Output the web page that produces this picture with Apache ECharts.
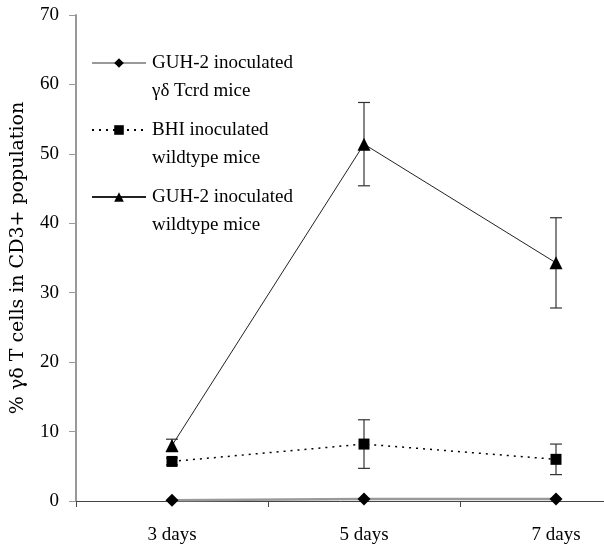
<!DOCTYPE html>
<html>
<head>
<meta charset="utf-8">
<script src="https://cdn.jsdelivr.net/npm/echarts@6/dist/echarts.min.js"></script>
<style>html,body{margin:0;padding:0;background:#fff;}#c{width:604px;height:544px;}</style>
</head>
<body>
<div id="c"></div>
<script>
var categories = ['3 days', '5 days', '7 days'];
var yTicks = [0, 10, 20, 30, 40, 50, 60, 70];
var seriesNames = ['GUH-2 inoculated\nγδ Tcrd mice', 'BHI inoculated\nwildtype mice', 'GUH-2 inoculated\nwildtype mice'];
var tcrdMean = [0.1, 0.3, 0.3];
var bhiMean = [5.7, 8.2, 6.0];
var bhiErr = [0.5, 3.5, 2.2];
var guhWtMean = [8.0, 51.4, 34.3];
var guhWtErr = [0.9, 6.0, 6.5];

var FONT = '"Liberation Serif", "Times New Roman", serif';

function errSeries(mean, err) {
  var data = mean.map(function (m, i) { return [i, m - err[i], m + err[i]]; });
  return {
    type: 'custom',
    silent: true,
    z: 1,
    data: data,
    renderItem: function (params, api) {
      var x = api.value(0);
      var lo = api.coord([x, api.value(1)]);
      var hi = api.coord([x, api.value(2)]);
      var hw = 6;
      var st = { stroke: '#333', lineWidth: 1.2 };
      return {
        type: 'group',
        children: [
          { type: 'line', shape: { x1: lo[0], y1: lo[1], x2: hi[0], y2: hi[1] }, style: st },
          { type: 'line', shape: { x1: lo[0] - hw, y1: lo[1], x2: lo[0] + hw, y2: lo[1] }, style: st },
          { type: 'line', shape: { x1: hi[0] - hw, y1: hi[1], x2: hi[0] + hw, y2: hi[1] }, style: st }
        ]
      };
    }
  };
}

var chart = echarts.init(document.getElementById('c'), null, { renderer: 'canvas' });
chart.setOption({
  animation: false,
  backgroundColor: '#fff',
  textStyle: { fontFamily: FONT },
  grid: { left: 76, top: 15, width: 576, height: 486, outerBoundsMode: 'none', containLabel: false },
  legend: {
    orient: 'vertical',
    left: 91,
    top: 21,
    padding: 0,
    itemWidth: 54,
    itemHeight: 12,
    itemGap: -17,
    data: seriesNames,
    formatter: function (name) { return ' \n' + name; },
    textStyle: { fontFamily: FONT, fontSize: 19, color: '#000', lineHeight: 28, padding: [0, 0, 0, 1] }
  },
  xAxis: {
    type: 'category',
    data: categories,
    boundaryGap: true,
    axisLine: { lineStyle: { color: '#444', width: 1 } },
    axisTick: { show: true, length: 6, lineStyle: { color: '#444' } },
    axisLabel: { fontFamily: FONT, fontSize: 19, color: '#000', margin: 25 },
    splitLine: { show: false }
  },
  yAxis: {
    type: 'value',
    min: yTicks[0],
    max: yTicks[yTicks.length - 1],
    interval: 10,
    name: '% γδ T cells in CD3+ population',
    nameLocation: 'middle',
    nameGap: 48,
    nameTextStyle: { fontFamily: '"DejaVu Serif", serif', fontSize: 19, color: '#000' },
    axisLine: { show: true, lineStyle: { color: '#999', width: 2 } },
    axisTick: { show: true, length: 7, lineStyle: { color: '#999', width: 1 } },
    axisLabel: { fontFamily: FONT, fontSize: 19, color: '#000', margin: 17 },
    splitLine: { show: false }
  },
  series: [
    {
      name: seriesNames[0],
      type: 'line',
      data: tcrdMean,
      symbol: 'diamond',
      symbolSize: 13,
      itemStyle: { color: '#000' },
      lineStyle: { color: '#999', width: 2.5, type: 'solid' },
      z: 3
    },
    {
      name: seriesNames[1],
      type: 'line',
      data: bhiMean,
      symbol: 'rect',
      symbolSize: 11,
      itemStyle: { color: '#000' },
      lineStyle: { color: '#000', width: 1.5, type: [2, 5] },
      z: 3
    },
    {
      name: seriesNames[2],
      type: 'line',
      data: guhWtMean,
      symbol: 'triangle',
      symbolSize: 13,
      itemStyle: { color: '#000' },
      lineStyle: { color: '#222', width: 1, type: 'solid' },
      z: 3
    },
    errSeries(bhiMean, bhiErr),
    errSeries(guhWtMean, guhWtErr)
  ]
});
</script>
</body>
</html>
